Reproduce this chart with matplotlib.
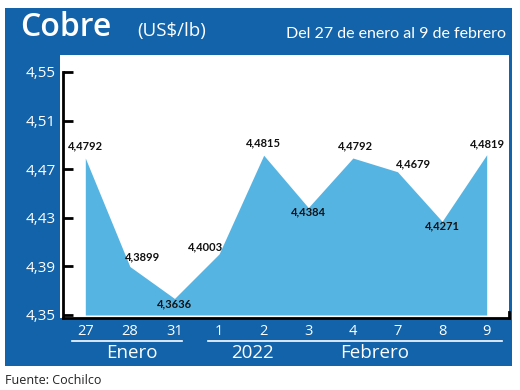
import numpy as np
import matplotlib.pyplot as plt
from matplotlib.patches import Rectangle
from matplotlib.lines import Line2D

# datos
dias = ['27', '28', '31', '1', '2', '3', '4', '7', '8', '9']
precio = [4.4792, 4.3899, 4.3636, 4.4003, 4.4815, 4.4384, 4.4792, 4.4679, 4.4271, 4.4819]
etiquetas = ['4,4792', '4,3899', '4,3636', '4,4003', '4,4815', '4,4384', '4,4792', '4,4679', '4,4271', '4,4819']
yticks = [4.35, 4.39, 4.43, 4.47, 4.51, 4.55]
ytick_labels = ['4,35', '4,39', '4,43', '4,47', '4,51', '4,55']

# desplazamiento de cada etiqueta (pixeles)
desp = [(0, 12), (13, 10), (0, -5), (-14, 7), (0, 12), (0, -4), (3, 12), (16, 8), (0, -5), (1, 11)]

azul = '#1263AA'
celeste = '#56B4E3'
W, H = 520, 390

fig = plt.figure(figsize=(W / 100, H / 100), dpi=100)
fig.patch.set_facecolor('white')


def fx(px):
    return px / W


def fy(py):
    return 1 - py / H


# panel azul y zona blanca
fig.patches.append(Rectangle((fx(5), fy(366)), fx(507), (358) / H, transform=fig.transFigure,
                             facecolor=azul, edgecolor='none', zorder=-10))
fig.patches.append(Rectangle((fx(60), fy(318)), fx(449), (263) / H, transform=fig.transFigure,
                             facecolor='white', edgecolor='none', zorder=-9))

# ejes
ymin = 4.35 - 3 * 0.04 / 48.6
ax = fig.add_axes([fx(63), fy(318), fx(446), (318 - 72) / H])
ax.set_facecolor('none')
x = np.arange(len(precio))
ax.fill_between(x, precio, 4.35, color=celeste, lw=0, zorder=2)
ax.set_xlim(-0.5, 9.5)
ax.set_ylim(ymin, 4.55)

for sp in ['top', 'right']:
    ax.spines[sp].set_visible(False)
ax.spines['left'].set_linewidth(2)
ax.spines['bottom'].set_linewidth(2)
ax.spines['bottom'].set_zorder(1)

ax.set_yticks(yticks)
ax.set_yticklabels(ytick_labels, family=['Open Sans', 'DejaVu Sans'], fontsize=11, color='white')
ax.tick_params(axis='y', direction='in', length=7, width=2, pad=5)
ax.set_xticks(x)
ax.set_xticklabels(dias, family=['Open Sans', 'DejaVu Sans'], fontsize=10.5, color='white')
ax.tick_params(axis='x', length=0, pad=4)

# marca final del eje x
ax.plot([9.5, 9.5], [ymin, ymin + 0.005], color='black', lw=2, clip_on=False, zorder=3)

for xi, yi, t, (dx, dy) in zip(x, precio, etiquetas, desp):
    ax.annotate(t, (xi, yi), xytext=(dx, dy), textcoords='offset pixels',
                ha='center', va='center', fontsize=8, fontweight='bold', color='#111111',
                family=['Lato', 'DejaVu Sans'], zorder=4)

# lineas de agrupacion
for a, b in [(72, 182), (208, 502)]:
    fig.add_artist(Line2D([fx(a), fx(b)], [fy(341), fy(341)], color='white', lw=1.2,
                          transform=fig.transFigure))
for t, px in [('Enero', 132), ('2022', 252), ('Febrero', 375)]:
    fig.text(fx(px), fy(353), t, ha='center', va='center', color='white', fontsize=13.5,
             family=['Open Sans', 'DejaVu Sans'])

# encabezado
fig.text(fx(20), fy(36), 'Cobre', ha='left', va='baseline', color='white', fontsize=23,
         fontweight='semibold', family=['Open Sans', 'DejaVu Sans'])
fig.text(fx(137), fy(36), '(US$/lb)', ha='left', va='baseline', color='white', fontsize=13.5,
         family=['Open Sans', 'DejaVu Sans'])
fig.text(fx(506), fy(38), 'Del 27 de enero al 9 de febrero', ha='right', va='baseline',
         color='white', fontsize=11.5, family=['Lato', 'DejaVu Sans'])

fig.text(fx(5), fy(380), 'Fuente: Cochilco', ha='left', va='center', color='#222222',
         fontsize=9, family=['Open Sans', 'DejaVu Sans'])

fig.savefig('out.png', dpi=100)
